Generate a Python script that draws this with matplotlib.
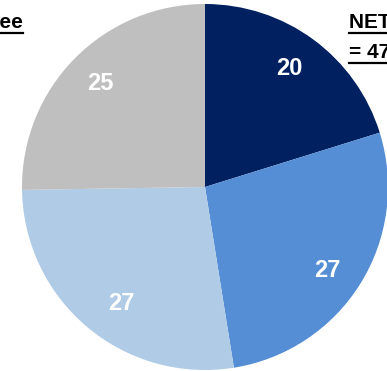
import matplotlib
matplotlib.use("Agg")
import matplotlib.pyplot as plt
from matplotlib.lines import Line2D

values = [20, 27, 27, 25]
colors = ["#002060", "#558ED5", "#B0CBE6", "#BFBFBF"]
left_lines = ["NET Disagree", "= 52"]
right_lines = ["NET Agree", "= 47"]
# label spots in axes units (Excel puts them a bit off the slice middle)
label_pos = [(0.459, 0.650), (0.667, -0.454), (-0.459, -0.639), (-0.574, 0.568)]

plt.rcParams["font.family"] = ["Liberation Sans", "DejaVu Sans"]

W, H = 387, 371
fig = plt.figure(figsize=(W / 100, H / 100), dpi=100)
cx, cy, r = 205, 187, 183
ax = fig.add_axes([(cx - r) / W, (H - cy - r) / H, 2 * r / W, 2 * r / H])

wedges, texts = ax.pie(values, colors=colors, startangle=90, counterclock=False,
                       labels=[str(v) for v in values], labeldistance=0.8,
                       textprops=dict(color="white", fontsize=17, fontweight="bold",
                                      ha="center", va="center"))
for t, p in zip(texts, label_pos):
    t.set_position(p)
ax.set_xlim(-1, 1)
ax.set_ylim(-1, 1)
ax.set_aspect("equal")
ax.axis("off")

# corner notes, underlined
notes = []
t = fig.text(23 / W, 1 - 28 / H, left_lines[0], ha="right", va="baseline",
             fontsize=15, fontweight="bold", color="black")
notes.append(t)
t = fig.text(-120 / W, 1 - 58 / H, left_lines[1], ha="left", va="baseline",
             fontsize=15, fontweight="bold", color="black")
notes.append(t)
for i, s in enumerate(right_lines):
    t = fig.text(349 / W, 1 - (28 + 30 * i) / H, s, ha="left", va="baseline",
                 fontsize=15, fontweight="bold", color="black")
    notes.append(t)

fig.canvas.draw()
rend = fig.canvas.get_renderer()
for t in notes:
    bb = t.get_window_extent(rend)
    x0, x1 = bb.x0, bb.x1
    base_y = t.get_position()[1] * H
    y = (base_y - 5) / H
    fig.add_artist(Line2D([x0 / W, x1 / W], [y, y], color="black", lw=1.6,
                          transform=fig.transFigure))

fig.savefig("out.png", dpi=100)
